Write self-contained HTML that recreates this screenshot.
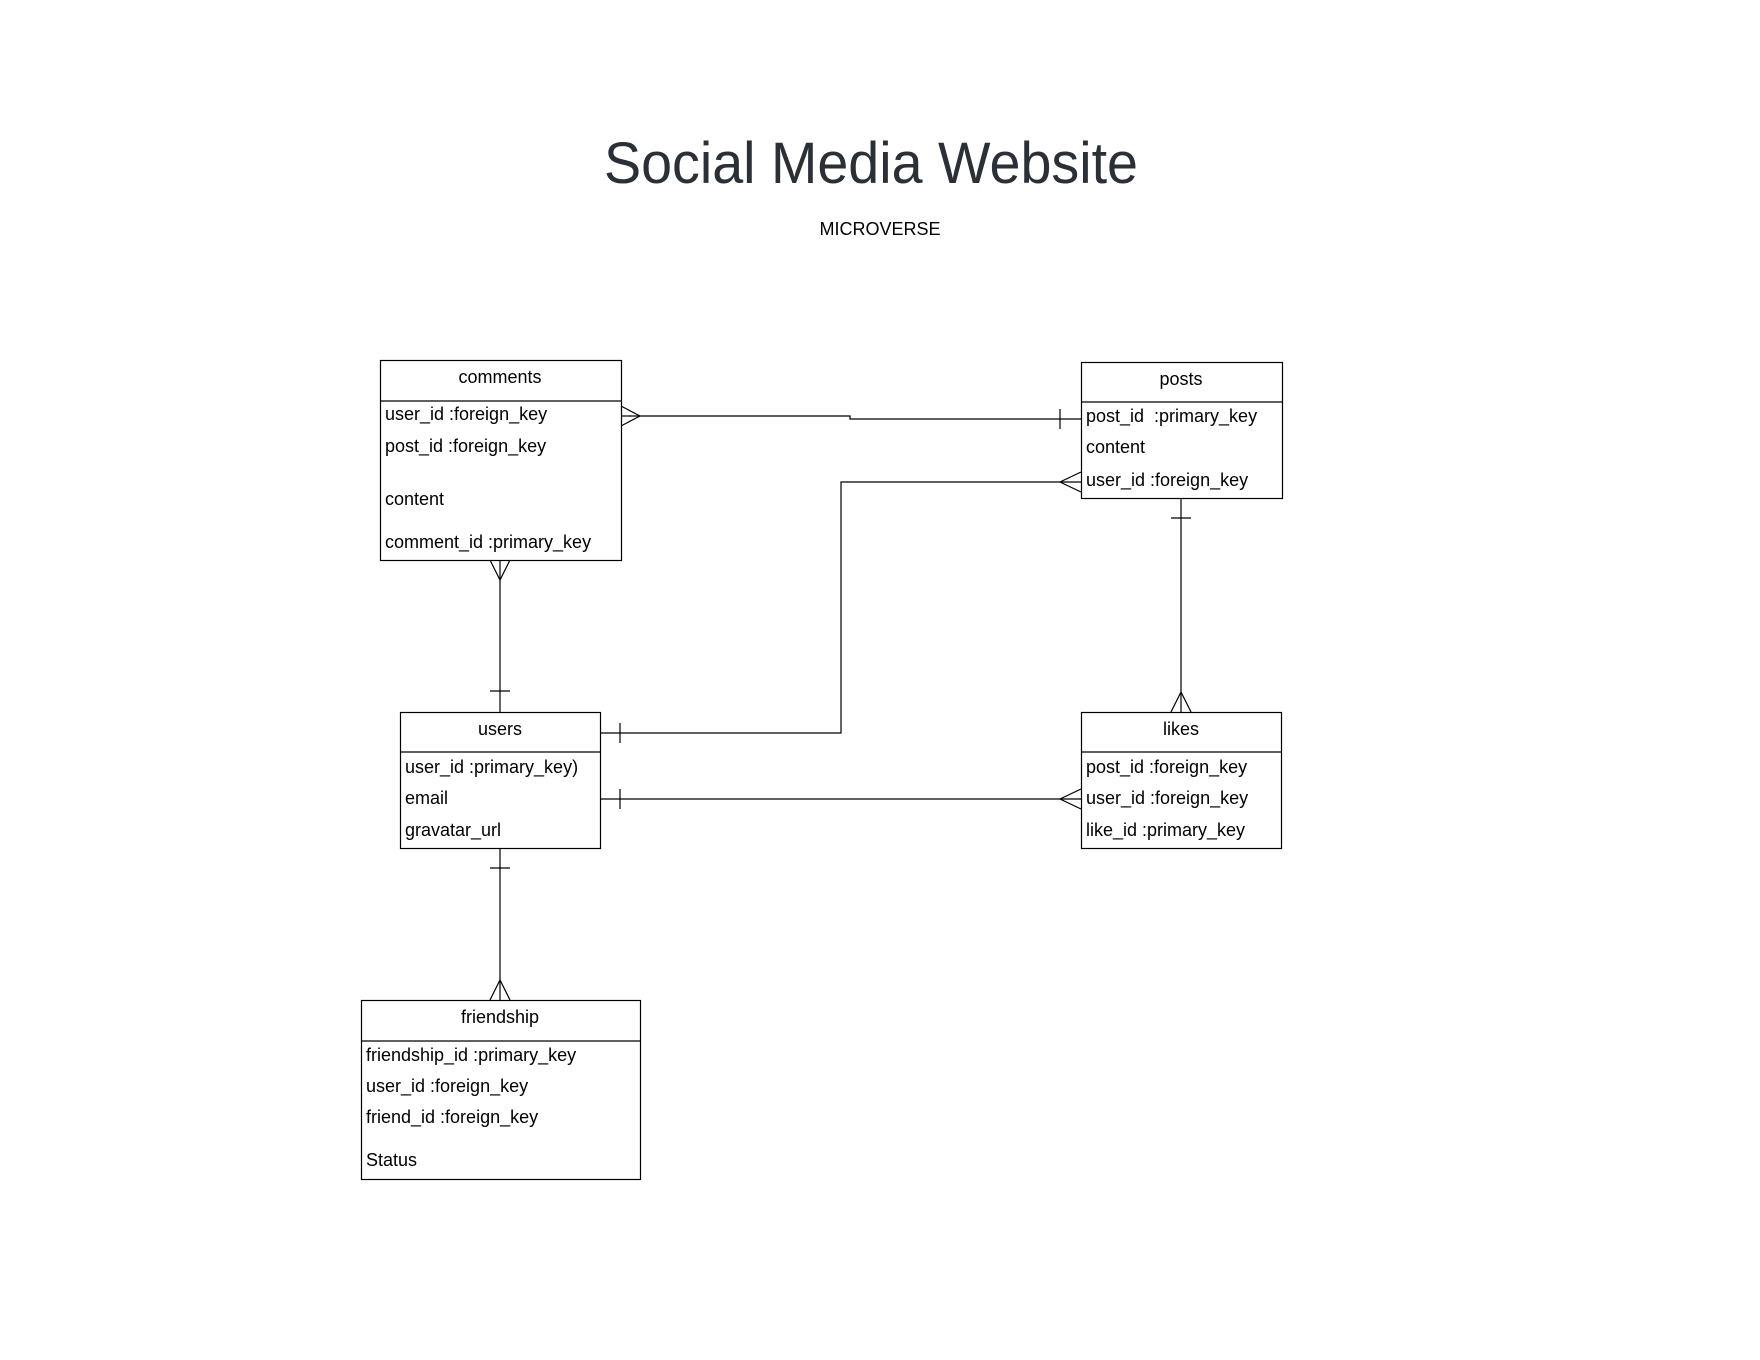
<!DOCTYPE html>
<html><head><meta charset="utf-8"><style>
html,body{margin:0;padding:0;background:#fff;}
svg{display:block;}
text{font-family:"Liberation Sans",Arial,sans-serif;fill:#000;}
</style></head><body>
<svg width="1760" height="1360" viewBox="0 0 1760 1360" xmlns="http://www.w3.org/2000/svg">
<text x="871" y="183" font-size="58" text-anchor="middle" textLength="534" lengthAdjust="spacingAndGlyphs" style="fill:#2b2f36">Social Media Website</text>
<text x="880" y="235" font-size="18" text-anchor="middle">MICROVERSE</text>
<g fill="none" stroke="#000" stroke-width="1.2">
<rect x="380.5" y="360.5" width="241" height="200"/><line x1="380" y1="401" x2="621" y2="401"/>
<rect x="1081.5" y="362.5" width="201" height="136"/><line x1="1081" y1="402" x2="1282" y2="402"/>
<rect x="400.5" y="712.5" width="200" height="136"/><line x1="400" y1="752" x2="600" y2="752"/>
<rect x="1081.5" y="712.5" width="200" height="136"/><line x1="1081" y1="752" x2="1281" y2="752"/>
<rect x="361.5" y="1000.5" width="279" height="179"/><line x1="361" y1="1041" x2="640" y2="1041"/>
<polyline points="621,416 850,416 850,419 1081,419"/>
<polyline points="621,406 640,416 621,426"/>
<line x1="1060" y1="409" x2="1060" y2="429"/>
<polyline points="1081,482 841,482 841,733 600,733"/>
<polyline points="1081,472 1060,482 1081,492"/>
<line x1="620" y1="723" x2="620" y2="743"/>
<line x1="500" y1="560" x2="500" y2="712"/>
<polyline points="490,560 500,580 510,560"/>
<line x1="490" y1="691" x2="510" y2="691"/>
<line x1="1181" y1="498" x2="1181" y2="712"/>
<line x1="1171" y1="518" x2="1191" y2="518"/>
<polyline points="1171,712 1181,692 1191,712"/>
<line x1="600" y1="799" x2="1081" y2="799"/>
<line x1="620" y1="789" x2="620" y2="809"/>
<polyline points="1081,789 1060,799 1081,809"/>
<line x1="500" y1="848" x2="500" y2="1000"/>
<line x1="490" y1="868" x2="510" y2="868"/>
<polyline points="490,1000 500,980 510,1000"/>
</g>
<g font-size="18">
<text x="500" y="383" text-anchor="middle">comments</text>
<text x="385" y="420">user_id :foreign_key</text>
<text x="385" y="452">post_id :foreign_key</text>
<text x="385" y="505">content</text>
<text x="385" y="548">comment_id :primary_key</text>

<text x="1181" y="385" text-anchor="middle">posts</text>
<text x="1086" y="422" xml:space="preserve">post_id  :primary_key</text>
<text x="1086" y="453">content</text>
<text x="1086" y="486">user_id :foreign_key</text>

<text x="500" y="735" text-anchor="middle">users</text>
<text x="405" y="773">user_id :primary_key)</text>
<text x="405" y="804">email</text>
<text x="405" y="836">gravatar_url</text>

<text x="1181" y="735" text-anchor="middle">likes</text>
<text x="1086" y="773">post_id :foreign_key</text>
<text x="1086" y="804">user_id :foreign_key</text>
<text x="1086" y="836">like_id :primary_key</text>

<text x="500" y="1023" text-anchor="middle">friendship</text>
<text x="366" y="1061">friendship_id :primary_key</text>
<text x="366" y="1092">user_id :foreign_key</text>
<text x="366" y="1123">friend_id :foreign_key</text>
<text x="366" y="1166">Status</text>
</g>
</svg>
</body></html>
